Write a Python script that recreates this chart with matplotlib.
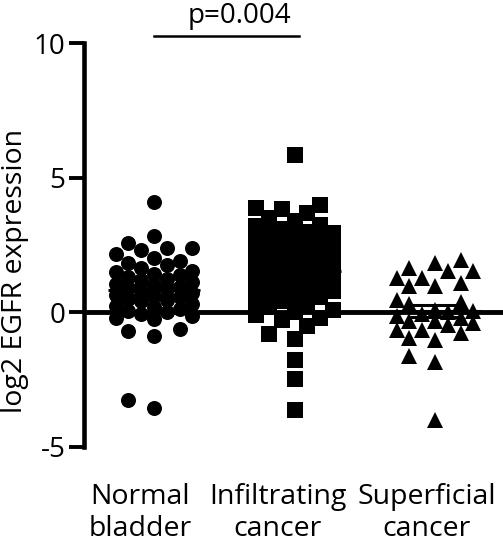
import numpy as np
import matplotlib
matplotlib.use("Agg")
import matplotlib.pyplot as plt

# values (log2 EGFR expression)
groups = ["Normal\nbladder", "Infiltrating\ncancer", "Superficial\ncancer"]
normal = [4.1, 2.83, 2.56, 2.4, 2.37, 2.33, 2.15, 2.02, 1.9, 1.84, 1.75, 1.65,
          1.53, 1.5, 1.44, 1.38, 1.3, 1.25, 1.2, 1.12, 1.05, 1.0, 0.95, 0.9,
          0.85, 0.78, 0.72, 0.65, 0.6, 0.55, 0.5, 0.45, 0.4, 0.32, 0.25, 0.2,
          0.12, 0.05, 0.0, -0.08, -0.15, -0.2, -0.25, -0.64, -0.71, -0.89,
          -3.27, -3.56]
infiltrating = [5.85, 4.0, 3.88, 3.84, 3.7, 3.5, 3.4, 3.25, 3.2, 3.1, 3.0, 2.95,
                2.9, 2.8, 2.75, 2.7, 2.6, 2.55, 2.5, 2.45, 2.4, 2.3, 2.25, 2.2,
                2.15, 2.1, 2.0, 1.95, 1.9, 1.85, 1.8, 1.7, 1.65, 1.6, 1.55, 1.5,
                1.45, 1.4, 1.3, 1.25, 1.2, 1.1, 1.05, 1.0, 0.9, 0.85, 0.8, 0.7,
                0.6, 0.55, 0.5, 0.4, 0.3, 0.2, 0.1, 0.0, -0.1, -0.2, -0.3,
                -0.52, -0.8, -0.99, -1.76, -2.48, -3.62]
superficial = [1.96, 1.84, 1.65, 1.53, 1.53, 1.28, 1.28, 1.09, 0.99, 0.99, 0.45,
               0.37, 0.29, 0.1, 0.05, 0.0, -0.05, -0.15, -0.2, -0.33, -0.33,
               -0.4, -0.46, -0.67, -0.67, -0.79, -0.95, -1.02, -1.64, -1.86,
               -3.99]
markers = ["o", "s", "^"]
marker_sizes = [10.8, 12.2, 11.5]
yticks = [-5, 0, 5, 10]
p_text = "p=0.004"

plt.rcParams['font.family'] = ['Open Sans', 'DejaVu Sans']

W, H = 503, 543
fig = plt.figure(figsize=(W / 100, H / 100), dpi=100)
# axes placed in pixels: spine at x=83.5, y=10 at 43.3, y=-5 at 446.7
left_px, top_px, bottom_px = 83.5, 43.3, 446.7
ax = fig.add_axes([left_px / W, (H - bottom_px) / H,
                   (W - left_px) / W, (bottom_px - top_px) / H])
xmin, xmax = 0.498, 3.484
ymin, ymax = -5, 10
ax.set_xlim(xmin, xmax)
ax.set_ylim(ymin, ymax)

# pixels per data unit
xpx = (W - left_px) / (xmax - xmin)
ypx = (bottom_px - top_px) / (ymax - ymin)


# simple prism-like column scatter: slots on a fixed grid, nearest free slot
def swarm_offsets(values, step=12.8, dmin=15.0, ncol=3):
    order = np.argsort(values)
    slots = [0]
    for k in range(1, ncol + 1):
        slots += [-k, k]
    placed = []
    offs = np.zeros(len(values))
    for i in order:
        y = values[i] * ypx
        best, best_d = None, -1
        for k in slots:
            x = k * step
            d = min([np.hypot(x - px, y - py) for px, py in placed] + [1e9])
            if d >= dmin:
                best = k
                break
            if d > best_d:
                best, best_d = k, d
        placed.append((best * step, y))
        offs[i] = best * step / xpx
    return offs


data = [normal, infiltrating, superficial]
for i, vals in enumerate(data):
    vals = np.array(vals)
    xs = i + 1 + swarm_offsets(vals)
    ax.plot(xs, vals, linestyle="none", marker=markers[i], ms=marker_sizes[i],
            color="black", mec="black", mew=0, zorder=3, clip_on=False)
    # mean with SEM
    m = vals.mean()
    sem = vals.std(ddof=1) / np.sqrt(len(vals))
    ax.hlines(m, i + 1 - 0.33, i + 1 + 0.33, color="black", lw=2.2, zorder=4)
    ax.errorbar(i + 1, m, yerr=sem, fmt="none", ecolor="black", elinewidth=2.2,
                capsize=18, capthick=2.2, zorder=4)

# zero line
ax.axhline(0, color="black", lw=3.5, zorder=2)

# significance bar
ax.plot([1, 2.03], [10.29, 10.29], color="black", lw=1.8, clip_on=False)
ax.text(1.605, 10.77, p_text, ha="center", va="baseline", fontsize=20,
        clip_on=False)

# axes styling
for s in ["top", "right", "bottom"]:
    ax.spines[s].set_visible(False)
ax.spines["left"].set_linewidth(3.3)
ax.spines["left"].set_capstyle("projecting")
ax.set_yticks(yticks)
ax.set_yticklabels([str(t) for t in yticks])
ax.tick_params(axis="y", length=11, width=2.8, pad=2, labelsize=20)
# group labels sit a little left of the columns in the reference
ax.set_xticks([0.900, 1.879, 2.939])
ax.set_xticklabels(groups, fontsize=20.5, linespacing=1.22)
ax.tick_params(axis="x", length=0, pad=26)

fig.text(1 / W, 1 - 271 / H, "log2 EGFR expression", rotation=90,
         ha="left", va="center", fontsize=20.5)

fig.savefig("out.png", dpi=100)
